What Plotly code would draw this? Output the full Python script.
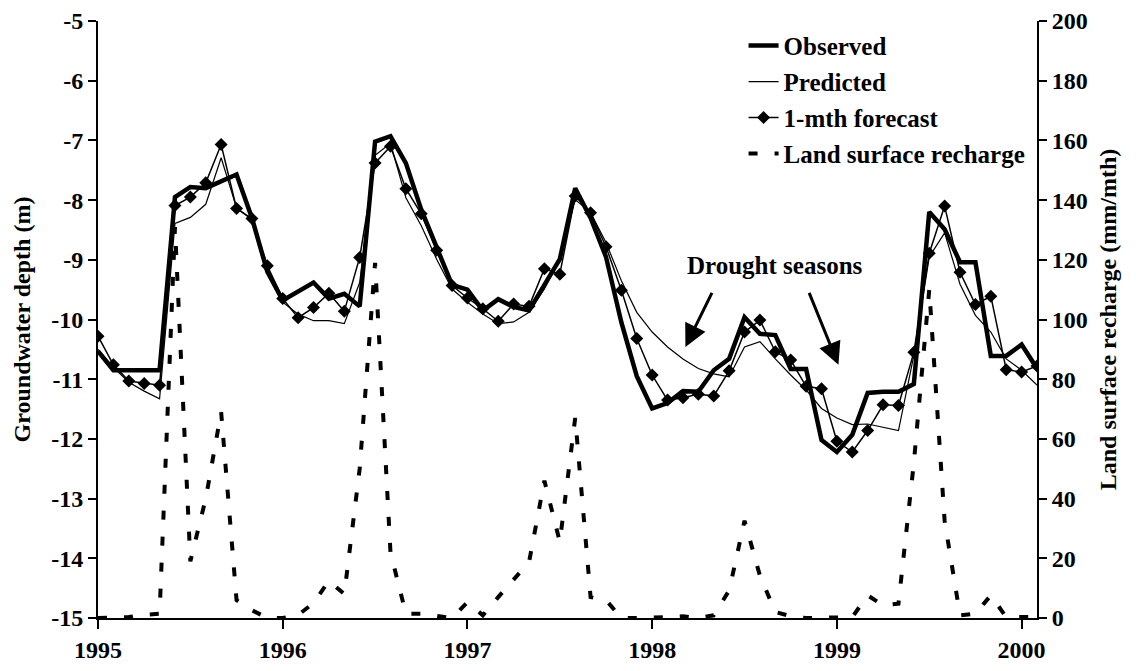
import plotly.graph_objects as go

# Monthly index: 0 = Jan 1995 ... 61 = Feb 2000
months = list(range(62))
year_ticks = [0, 12, 24, 36, 48, 60]
year_labels = ["1995", "1996", "1997", "1998", "1999", "2000"]

observed = [-10.53, -10.85, -10.85, -10.85, -10.85, -7.95, -7.78, -7.80, -7.68, -7.57,
            -8.30, -9.20, -9.68, -9.52, -9.38, -9.65, -9.57, -9.78, -7.02, -6.93,
            -7.38, -8.16, -8.80, -9.42, -9.50, -9.85, -9.66, -9.79, -9.85, -9.43,
            -8.99, -7.80, -8.30, -8.95, -10.05, -10.95, -11.49, -11.40, -11.20, -11.21,
            -10.85, -10.66, -9.96, -10.24, -10.26, -10.83, -10.83, -12.02, -12.22, -11.93,
            -11.23, -11.21, -11.21, -11.08, -8.20, -8.49, -9.04, -9.04, -10.61, -10.61,
            -10.42, -10.82]

predicted = [-10.50, -10.80, -11.05, -11.20, -11.33, -8.39, -8.29, -8.07, -7.29, -8.13,
             -8.33, -9.16, -9.71, -9.91, -10.02, -10.02, -10.07, -9.38, -7.25, -7.05,
             -7.96, -8.43, -8.99, -9.49, -9.71, -9.91, -10.07, -10.04, -9.88, -9.49,
             -8.99, -7.99, -8.21, -8.71, -9.35, -9.88, -10.21, -10.46, -10.66, -10.82,
             -10.91, -10.96, -10.46, -10.37, -10.66, -10.93, -11.18, -11.49, -11.65, -11.76,
             -11.75, -11.81, -11.86, -10.60, -8.95, -8.55, -9.41, -9.93, -10.21, -10.66,
             -10.85, -11.10]

forecast = [-10.28, -10.76, -11.03, -11.07, -11.10, -8.09, -7.95, -7.71, -7.07, -8.14,
            -8.31, -9.10, -9.65, -9.97, -9.80, -9.56, -9.86, -8.96, -7.38, -7.10,
            -7.81, -8.23, -8.84, -9.43, -9.64, -9.82, -10.03, -9.74, -9.78, -9.15,
            -9.24, -7.93, -8.21, -8.78, -9.51, -10.32, -10.93, -11.35, -11.31, -11.25,
            -11.28, -10.86, -10.21, -10.01, -10.54, -10.68, -11.12, -11.16, -12.04, -12.22,
            -11.86, -11.43, -11.44, -10.55, -8.89, -8.10, -9.21, -9.75, -9.61, -10.84,
            -10.88, -10.78]

recharge = [0, 0, 0.3, 1.1, 1.4, 131, 19, 40, 69, 6,
            2.6, 0, 0, 1, 5, 12.5, 8, 50, 119, 22,
            1.5, 1.4, 0.6, 0, 5.3, 0.9, 7, 13, 18.7, 46,
            25.5, 67, 7, 6, 0, 0, 0, 0.3, 0.6, 0,
            0.9, 9.2, 32.6, 14.2, 2, 0.6, 0, 0, 0, 0.3,
            7.6, 4.2, 4.8, 52, 110, 32.5, 0.9, 1.4, 7.6, 0.3,
            0.3, 0.3]

depth_ticks = [-5, -6, -7, -8, -9, -10, -11, -12, -13, -14, -15]
recharge_ticks = list(range(0, 201, 20))

FONT = "Liberation Serif, Times New Roman, serif"

fig = go.Figure()
fig.add_trace(go.Scatter(x=months, y=observed, name="Observed", mode="lines",
                         line=dict(color="black", width=4.5), legendgroup="a"))
fig.add_trace(go.Scatter(x=months, y=predicted, name="Predicted", mode="lines",
                         line=dict(color="black", width=1.2), legendgroup="b"))
fig.add_trace(go.Scatter(x=months, y=forecast, name="1-mth forecast", mode="lines+markers",
                         line=dict(color="black", width=1.5),
                         marker=dict(symbol="diamond", size=10, color="black"),
                         legendgroup="c"))
fig.add_trace(go.Scatter(x=months, y=recharge, name="Land surface recharge", mode="lines",
                         line=dict(color="black", width=4, dash="9px,17px"),
                         yaxis="y2", legendgroup="d"))

axis_font = dict(family=FONT, size=24, color="black", weight="bold")

fig.update_layout(
    width=1136, height=671,
    paper_bgcolor="white", plot_bgcolor="white",
    margin=dict(l=90, r=107, t=13, b=61),
    font=axis_font,
    showlegend=True,
    legend=dict(x=0.6875, y=0.997, xanchor="left", yanchor="top",
                bgcolor="rgba(0,0,0,0)", tracegroupgap=0.5,
                font=dict(family=FONT, size=25, color="black", weight="bold")),
    xaxis=dict(range=[0, 61], tickvals=year_ticks, ticktext=year_labels,
               showline=True, linecolor="black", linewidth=2, automargin=False,
               ticks="outside", ticklen=9, tickwidth=2, tickcolor="black",
               showgrid=False, zeroline=False, tickfont=axis_font,
               ticklabeloverflow="allow"),
    yaxis=dict(range=[-15, -5], tickvals=depth_ticks,
               ticktext=[str(v) for v in depth_ticks], automargin=False,
               showline=True, linecolor="black", linewidth=2,
               ticks="outside", ticklen=8, tickwidth=2, tickcolor="black",
               showgrid=False, zeroline=False, tickfont=axis_font,
               ticklabeloverflow="allow",
               title=dict(text="Groundwater depth (m)", font=axis_font, standoff=14)),
    yaxis2=dict(range=[0, 200], tickvals=recharge_ticks, overlaying="y", side="right",
                showline=True, linecolor="black", linewidth=2, automargin=False,
                ticks="outside", ticklen=8, tickwidth=2, tickcolor="black",
                showgrid=False, zeroline=False, tickfont=axis_font,
                ticklabeloverflow="allow",
                title=dict(text="Land surface recharge (mm/mth)", font=axis_font, standoff=12)),
)

ann_font = dict(family=FONT, size=25, color="black", weight="bold")
fig.add_annotation(x=44.0, y=-9.09, xref="x", yref="y", text="Drought seasons",
                   showarrow=False, font=ann_font)
fig.add_annotation(x=38.16, y=-10.46, ax=39.93, ay=-9.53, xref="x", yref="y",
                   axref="x", ayref="y", text="", showarrow=True,
                   arrowhead=2, arrowsize=1.5, arrowwidth=3, arrowcolor="black")
fig.add_annotation(x=48.1, y=-10.76, ax=46.16, ay=-9.53, xref="x", yref="y",
                   axref="x", ayref="y", text="", showarrow=True,
                   arrowhead=2, arrowsize=1.5, arrowwidth=3, arrowcolor="black")

fig.write_html("out.html")
